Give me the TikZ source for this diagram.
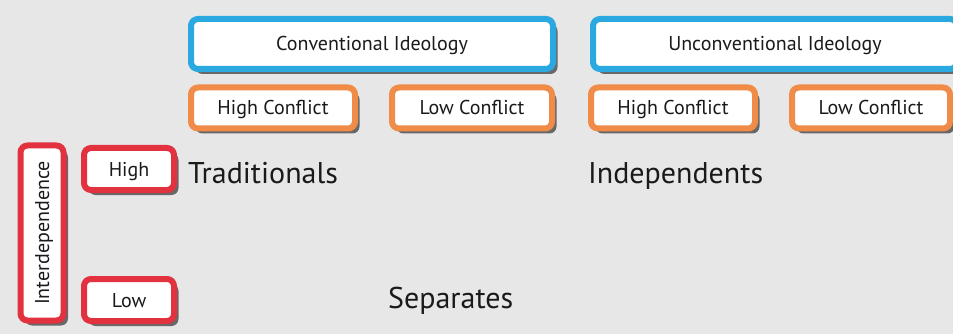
\documentclass[tikz,border=0pt]{standalone}
\usepackage{fontspec}
\setmainfont{PT Sans}
\usepackage{tikz}
\usetikzlibrary{shadows}
\definecolor{bg}{HTML}{E7E7E7}
\definecolor{ideo}{HTML}{2AA8E0}
\definecolor{conf}{HTML}{F08C48}
\definecolor{inter}{HTML}{E2313F}
\definecolor{ink}{HTML}{1A1A1A}
\tikzset{
  every picture/.style={line join=round},
  box/.style={fill=white, line width=6pt, rounded corners=7pt, align=center,
    text=ink, inner sep=2pt, text height=14pt, text depth=0pt,
    font=\fontsize{20}{24}\selectfont,
    drop shadow={shadow xshift=4.5pt, shadow yshift=-5pt, fill=black, opacity=0.55}},
  ideobox/.style={box, draw=ideo, minimum height=50pt},
  confbox/.style={box, draw=conf, minimum height=41pt},
  interbox/.style={box, draw=inter},
  quad/.style={font=\fontsize{30}{36}\selectfont, text=ink, anchor=base west, inner sep=0pt},
}
\begin{document}
\begin{tikzpicture}[x=1pt, y=-1pt]
  \fill[bg] (0,0) rectangle (953,334);
  \useasboundingbox (0,0) rectangle (953,334);

  % ---------------- ideology ----------------
  \node[ideobox, minimum width=362pt] (conv) at (372,44) {Conventional Ideology};
  \node[ideobox, minimum width=364pt] (unconv) at (775,44) {Unconventional Ideology};

  % ---------------- conflict ----------------
  \node[confbox, minimum width=164pt] (convhigh) at (273,108) {High Conflict};
  \node[confbox, minimum width=160pt] (convlow) at (472,108) {Low Conflict};
  \node[confbox, minimum width=164pt] (unconvhigh) at (673,108) {High Conflict};
  \node[confbox, minimum width=158pt] (unconvlow) at (871,108) {Low Conflict};

  % ---------------- interdependence ----------------
  \node[interbox, minimum width=175pt, minimum height=43pt, rotate=90]
    (interdep) at (42,233) {Interdependence};
  \node[interbox, minimum width=90pt, minimum height=42pt] (high) at (129,169) {High};
  \node[interbox, minimum width=90pt, minimum height=42pt] (low) at (129,300) {Low};

  % ---------------- the cells ----------------
  \node[quad] (trad) at (188,183) {Traditionals};
  \node[quad] (indep) at (588,183) {Independents};
  \node[quad] (sep) at (388,308) {Separates};
\end{tikzpicture}
\end{document}
